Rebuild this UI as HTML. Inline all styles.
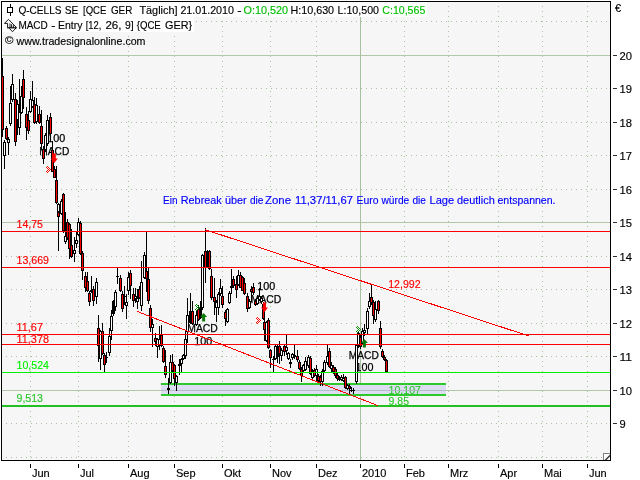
<!DOCTYPE html>
<html lang="de"><head><meta charset="utf-8"><title>Q-CELLS SE Chart</title>
<style>html,body{margin:0;padding:0;background:#fff;overflow:hidden}svg{display:block;will-change:transform}text{white-space:pre}</style>
</head><body><svg width="640" height="480" viewBox="0 0 640 480" font-family="'Liberation Sans', sans-serif" font-size="11"><rect x="0" y="0" width="640" height="480" fill="#ffffff"/>
<rect x="2" y="2" width="608" height="458" fill="#f6f6f6"/>
<g shape-rendering="crispEdges"><line x1="1" y1="457.5" x2="610" y2="457.5" stroke="#a6c29e" stroke-width="1" stroke-dasharray="1 4"/><line x1="1" y1="423.5" x2="610" y2="423.5" stroke="#a6c29e" stroke-width="1" stroke-dasharray="1 4"/><rect x="2" y="390" width="608" height="1" fill="#b0c8a8"/><line x1="1" y1="356.5" x2="610" y2="356.5" stroke="#a6c29e" stroke-width="1" stroke-dasharray="1 4"/><line x1="1" y1="323.5" x2="610" y2="323.5" stroke="#a6c29e" stroke-width="1" stroke-dasharray="1 4"/><line x1="1" y1="289.5" x2="610" y2="289.5" stroke="#a6c29e" stroke-width="1" stroke-dasharray="1 4"/><line x1="1" y1="256.5" x2="610" y2="256.5" stroke="#a6c29e" stroke-width="1" stroke-dasharray="1 4"/><rect x="2" y="222" width="608" height="1" fill="#b0c8a8"/><line x1="1" y1="189.5" x2="610" y2="189.5" stroke="#a6c29e" stroke-width="1" stroke-dasharray="1 4"/><line x1="1" y1="155.5" x2="610" y2="155.5" stroke="#a6c29e" stroke-width="1" stroke-dasharray="1 4"/><line x1="1" y1="122.5" x2="610" y2="122.5" stroke="#a6c29e" stroke-width="1" stroke-dasharray="1 4"/><line x1="1" y1="88.5" x2="610" y2="88.5" stroke="#a6c29e" stroke-width="1" stroke-dasharray="1 4"/><rect x="2" y="55" width="608" height="1" fill="#b0c8a8"/><line x1="1" y1="21.5" x2="610" y2="21.5" stroke="#a6c29e" stroke-width="1" stroke-dasharray="1 4"/><line x1="30.5" y1="1" x2="30.5" y2="460" stroke="#a6c29e" stroke-width="1" stroke-dasharray="1 4"/><line x1="78.5" y1="1" x2="78.5" y2="460" stroke="#a6c29e" stroke-width="1" stroke-dasharray="1 4"/><line x1="128.5" y1="1" x2="128.5" y2="460" stroke="#a6c29e" stroke-width="1" stroke-dasharray="1 4"/><line x1="174.5" y1="1" x2="174.5" y2="460" stroke="#a6c29e" stroke-width="1" stroke-dasharray="1 4"/><line x1="222.5" y1="1" x2="222.5" y2="460" stroke="#a6c29e" stroke-width="1" stroke-dasharray="1 4"/><line x1="270.5" y1="1" x2="270.5" y2="460" stroke="#a6c29e" stroke-width="1" stroke-dasharray="1 4"/><line x1="316.5" y1="1" x2="316.5" y2="460" stroke="#a6c29e" stroke-width="1" stroke-dasharray="1 4"/><rect x="360" y="17" width="1" height="443" fill="#a8c0a0"/><line x1="404.5" y1="1" x2="404.5" y2="460" stroke="#a6c29e" stroke-width="1" stroke-dasharray="1 4"/><line x1="448.5" y1="1" x2="448.5" y2="460" stroke="#a6c29e" stroke-width="1" stroke-dasharray="1 4"/><line x1="498.5" y1="1" x2="498.5" y2="460" stroke="#a6c29e" stroke-width="1" stroke-dasharray="1 4"/><line x1="542.5" y1="1" x2="542.5" y2="460" stroke="#a6c29e" stroke-width="1" stroke-dasharray="1 4"/><line x1="587.5" y1="1" x2="587.5" y2="460" stroke="#a6c29e" stroke-width="1" stroke-dasharray="1 4"/></g>
<g shape-rendering="crispEdges"><rect x="161" y="383" width="285" height="13" fill="#dcdcf2"/><rect x="161" y="390" width="285" height="1" fill="#b4bcc4"/><rect x="161" y="383" width="285" height="2" fill="#2cc82c"/><rect x="161" y="394" width="285" height="2" fill="#2cc82c"/></g><text x="47.3" y="141.5" fill="#000" stroke="#000" stroke-width="0.25" textLength="18" lengthAdjust="spacingAndGlyphs">100</text><text x="39.3" y="154.6" fill="#000" stroke="#000" stroke-width="0.25" textLength="30" lengthAdjust="spacingAndGlyphs">MACD</text><text x="187.3" y="332" fill="#000" stroke="#000" stroke-width="0.25" textLength="30.5" lengthAdjust="spacingAndGlyphs">MACD</text><text x="194.3" y="345" fill="#000" stroke="#000" stroke-width="0.25" textLength="18" lengthAdjust="spacingAndGlyphs">100</text><text x="257.3" y="290" fill="#000" stroke="#000" stroke-width="0.25" textLength="18" lengthAdjust="spacingAndGlyphs">100</text><text x="250.8" y="303" fill="#000" stroke="#000" stroke-width="0.25" textLength="30.5" lengthAdjust="spacingAndGlyphs">MACD</text><text x="348.8" y="358.8" fill="#000" stroke="#000" stroke-width="0.25" textLength="30" lengthAdjust="spacingAndGlyphs">MACD</text><text x="355.5" y="371" fill="#000" stroke="#000" stroke-width="0.25" textLength="18" lengthAdjust="spacingAndGlyphs">100</text>
<g shape-rendering="crispEdges"><rect x="2" y="58" width="1" height="79" fill="#000"/><rect x="1" y="76" width="3" height="54" fill="#000"/><rect x="2" y="77" width="1" height="52" fill="#ff0000"/><rect x="4" y="140" width="1" height="29" fill="#000"/><rect x="3" y="142" width="3" height="14" fill="#000"/><rect x="4" y="143" width="1" height="12" fill="#ffffff"/><rect x="6" y="126" width="1" height="14" fill="#000"/><rect x="5" y="128" width="3" height="11" fill="#000"/><rect x="6" y="129" width="1" height="9" fill="#ff0000"/><rect x="8" y="137" width="1" height="18" fill="#000"/><rect x="7" y="139" width="3" height="4" fill="#000"/><rect x="8" y="140" width="1" height="2" fill="#ffffff"/><rect x="10" y="86" width="1" height="40" fill="#000"/><rect x="9" y="103" width="3" height="21" fill="#000"/><rect x="10" y="104" width="1" height="19" fill="#ffffff"/><rect x="12" y="74" width="1" height="28" fill="#000"/><rect x="11" y="84" width="3" height="16" fill="#000"/><rect x="12" y="85" width="1" height="14" fill="#ffffff"/><rect x="15" y="93" width="1" height="53" fill="#000"/><rect x="14" y="99" width="3" height="43" fill="#000"/><rect x="15" y="100" width="1" height="41" fill="#ff0000"/><rect x="17" y="100" width="1" height="35" fill="#000"/><rect x="16" y="104" width="3" height="16" fill="#000"/><rect x="17" y="105" width="1" height="14" fill="#ffffff"/><rect x="19" y="79" width="1" height="56" fill="#000"/><rect x="18" y="112" width="3" height="16" fill="#000"/><rect x="19" y="113" width="1" height="14" fill="#ffffff"/><rect x="21" y="86" width="1" height="28" fill="#000"/><rect x="20" y="96" width="3" height="17" fill="#000"/><rect x="21" y="97" width="1" height="15" fill="#ffffff"/><rect x="23" y="70" width="1" height="39" fill="#000"/><rect x="22" y="79" width="3" height="19" fill="#000"/><rect x="23" y="80" width="1" height="17" fill="#ff0000"/><rect x="26" y="107" width="1" height="33" fill="#000"/><rect x="25" y="114" width="3" height="14" fill="#000"/><rect x="26" y="115" width="1" height="12" fill="#ff0000"/><rect x="28" y="111" width="1" height="23" fill="#000"/><rect x="27" y="120" width="3" height="11" fill="#000"/><rect x="28" y="121" width="1" height="9" fill="#ff0000"/><rect x="30" y="91" width="1" height="22" fill="#000"/><rect x="29" y="99" width="3" height="13" fill="#000"/><rect x="30" y="100" width="1" height="11" fill="#ffffff"/><rect x="32" y="81" width="1" height="27" fill="#000"/><rect x="31" y="100" width="3" height="7" fill="#000"/><rect x="32" y="101" width="1" height="5" fill="#ffffff"/><rect x="34" y="97" width="1" height="27" fill="#000"/><rect x="33" y="104" width="3" height="19" fill="#000"/><rect x="34" y="105" width="1" height="17" fill="#ff0000"/><rect x="36" y="98" width="1" height="26" fill="#000"/><rect x="35" y="105" width="3" height="17" fill="#000"/><rect x="36" y="106" width="1" height="15" fill="#ffffff"/><rect x="39" y="106" width="1" height="18" fill="#000"/><rect x="38" y="114" width="3" height="9" fill="#000"/><rect x="39" y="115" width="1" height="7" fill="#ff0000"/><rect x="41" y="110" width="1" height="40" fill="#000"/><rect x="40" y="126" width="3" height="18" fill="#000"/><rect x="41" y="127" width="1" height="16" fill="#ff0000"/><rect x="43" y="146" width="1" height="18" fill="#000"/><rect x="42" y="149" width="3" height="10" fill="#000"/><rect x="43" y="150" width="1" height="8" fill="#ff0000"/><rect x="45" y="133" width="1" height="19" fill="#000"/><rect x="44" y="135" width="3" height="15" fill="#000"/><rect x="45" y="136" width="1" height="13" fill="#ffffff"/><rect x="47" y="115" width="1" height="31" fill="#000"/><rect x="46" y="120" width="3" height="24" fill="#000"/><rect x="47" y="121" width="1" height="22" fill="#ffffff"/><rect x="50" y="113" width="1" height="28" fill="#000"/><rect x="49" y="117" width="3" height="17" fill="#000"/><rect x="50" y="118" width="1" height="15" fill="#ff0000"/><rect x="52" y="141" width="1" height="31" fill="#000"/><rect x="51" y="150" width="3" height="22" fill="#000"/><rect x="52" y="151" width="1" height="20" fill="#ff0000"/><rect x="54" y="166" width="1" height="12" fill="#000"/><rect x="53" y="169" width="3" height="9" fill="#000"/><rect x="54" y="170" width="1" height="7" fill="#ff0000"/><rect x="56" y="166" width="1" height="38" fill="#000"/><rect x="55" y="180" width="3" height="23" fill="#000"/><rect x="56" y="181" width="1" height="21" fill="#ff0000"/><rect x="58" y="203" width="1" height="10" fill="#000"/><rect x="57" y="204" width="3" height="8" fill="#000"/><rect x="58" y="205" width="1" height="6" fill="#ffffff"/><rect x="58" y="212" width="1" height="39" fill="#000"/><rect x="57" y="212" width="3" height="5" fill="#000"/><rect x="58" y="213" width="1" height="3" fill="#ff0000"/><rect x="61" y="199" width="1" height="16" fill="#000"/><rect x="60" y="201" width="3" height="13" fill="#000"/><rect x="61" y="202" width="1" height="11" fill="#ffffff"/><rect x="63" y="193" width="1" height="40" fill="#000"/><rect x="62" y="194" width="3" height="37" fill="#000"/><rect x="63" y="195" width="1" height="35" fill="#ff0000"/><rect x="65" y="212" width="1" height="32" fill="#000"/><rect x="64" y="236" width="3" height="6" fill="#000"/><rect x="65" y="237" width="1" height="4" fill="#ffffff"/><rect x="67" y="219" width="1" height="21" fill="#000"/><rect x="66" y="222" width="3" height="16" fill="#000"/><rect x="67" y="223" width="1" height="14" fill="#ff0000"/><rect x="69" y="223" width="1" height="36" fill="#000"/><rect x="68" y="224" width="3" height="25" fill="#000"/><rect x="69" y="225" width="1" height="23" fill="#ff0000"/><rect x="71" y="229" width="1" height="29" fill="#000"/><rect x="70" y="245" width="3" height="12" fill="#000"/><rect x="71" y="246" width="1" height="10" fill="#ff0000"/><rect x="74" y="237" width="1" height="25" fill="#000"/><rect x="73" y="250" width="3" height="4" fill="#000"/><rect x="74" y="251" width="1" height="2" fill="#ffffff"/><rect x="76" y="232" width="1" height="16" fill="#000"/><rect x="75" y="240" width="3" height="4" fill="#000"/><rect x="76" y="241" width="1" height="2" fill="#ffffff"/><rect x="78" y="218" width="1" height="18" fill="#000"/><rect x="77" y="222" width="3" height="13" fill="#000"/><rect x="78" y="223" width="1" height="11" fill="#ffffff"/><rect x="80" y="221" width="1" height="34" fill="#000"/><rect x="79" y="223" width="3" height="31" fill="#000"/><rect x="80" y="224" width="1" height="29" fill="#ff0000"/><rect x="82" y="251" width="1" height="29" fill="#000"/><rect x="81" y="253" width="3" height="18" fill="#000"/><rect x="82" y="254" width="1" height="16" fill="#ff0000"/><rect x="85" y="272" width="1" height="20" fill="#000"/><rect x="84" y="276" width="3" height="12" fill="#000"/><rect x="85" y="277" width="1" height="10" fill="#ff0000"/><rect x="87" y="272" width="1" height="20" fill="#000"/><rect x="86" y="281" width="3" height="10" fill="#000"/><rect x="87" y="282" width="1" height="8" fill="#ff0000"/><rect x="89" y="291" width="1" height="15" fill="#000"/><rect x="88" y="293" width="3" height="9" fill="#000"/><rect x="89" y="294" width="1" height="7" fill="#ff0000"/><rect x="91" y="276" width="1" height="17" fill="#000"/><rect x="90" y="290" width="3" height="2" fill="#000"/><rect x="93" y="286" width="1" height="20" fill="#000"/><rect x="92" y="289" width="3" height="12" fill="#000"/><rect x="93" y="290" width="1" height="10" fill="#ff0000"/><rect x="96" y="278" width="1" height="26" fill="#000"/><rect x="95" y="282" width="3" height="15" fill="#000"/><rect x="96" y="283" width="1" height="13" fill="#ffffff"/><rect x="98" y="315" width="1" height="47" fill="#000"/><rect x="97" y="328" width="3" height="18" fill="#000"/><rect x="98" y="329" width="1" height="16" fill="#ff0000"/><rect x="100" y="330" width="1" height="40" fill="#000"/><rect x="99" y="331" width="3" height="28" fill="#000"/><rect x="100" y="332" width="1" height="26" fill="#ffffff"/><rect x="102" y="323" width="1" height="32" fill="#000"/><rect x="101" y="331" width="3" height="23" fill="#000"/><rect x="102" y="332" width="1" height="21" fill="#ff0000"/><rect x="104" y="353" width="1" height="19" fill="#000"/><rect x="103" y="355" width="3" height="10" fill="#000"/><rect x="104" y="356" width="1" height="8" fill="#ff0000"/><rect x="106" y="352" width="1" height="11" fill="#000"/><rect x="105" y="357" width="3" height="1" fill="#000"/><rect x="109" y="328" width="1" height="28" fill="#000"/><rect x="108" y="336" width="3" height="17" fill="#000"/><rect x="109" y="337" width="1" height="15" fill="#ffffff"/><rect x="111" y="310" width="1" height="30" fill="#000"/><rect x="110" y="316" width="3" height="15" fill="#000"/><rect x="111" y="317" width="1" height="13" fill="#ffffff"/><rect x="113" y="300" width="1" height="16" fill="#000"/><rect x="112" y="301" width="3" height="13" fill="#000"/><rect x="113" y="302" width="1" height="11" fill="#000000"/><rect x="115" y="290" width="1" height="21" fill="#000"/><rect x="114" y="292" width="3" height="15" fill="#000"/><rect x="115" y="293" width="1" height="13" fill="#ffffff"/><rect x="117" y="268" width="1" height="16" fill="#000"/><rect x="116" y="276" width="3" height="1" fill="#000"/><rect x="120" y="275" width="1" height="17" fill="#000"/><rect x="119" y="278" width="3" height="13" fill="#000"/><rect x="120" y="279" width="1" height="11" fill="#ff0000"/><rect x="122" y="291" width="1" height="21" fill="#000"/><rect x="121" y="294" width="3" height="15" fill="#000"/><rect x="122" y="295" width="1" height="13" fill="#ff0000"/><rect x="124" y="286" width="1" height="19" fill="#000"/><rect x="123" y="296" width="3" height="1" fill="#000"/><rect x="126" y="294" width="1" height="25" fill="#000"/><rect x="125" y="302" width="3" height="4" fill="#000"/><rect x="126" y="303" width="1" height="2" fill="#ffffff"/><rect x="128" y="272" width="1" height="23" fill="#000"/><rect x="127" y="277" width="3" height="14" fill="#000"/><rect x="128" y="278" width="1" height="12" fill="#ffffff"/><rect x="130" y="270" width="1" height="29" fill="#000"/><rect x="129" y="273" width="3" height="13" fill="#000"/><rect x="130" y="274" width="1" height="11" fill="#ff0000"/><rect x="133" y="288" width="1" height="19" fill="#000"/><rect x="132" y="294" width="3" height="7" fill="#000"/><rect x="133" y="295" width="1" height="5" fill="#ff0000"/><rect x="135" y="288" width="1" height="15" fill="#000"/><rect x="134" y="296" width="3" height="3" fill="#000"/><rect x="135" y="297" width="1" height="1" fill="#ffffff"/><rect x="137" y="289" width="1" height="20" fill="#000"/><rect x="136" y="298" width="3" height="4" fill="#000"/><rect x="137" y="299" width="1" height="2" fill="#ffffff"/><rect x="139" y="286" width="1" height="13" fill="#000"/><rect x="138" y="289" width="3" height="9" fill="#000"/><rect x="139" y="290" width="1" height="7" fill="#ff0000"/><rect x="141" y="261" width="1" height="50" fill="#000"/><rect x="140" y="282" width="3" height="24" fill="#000"/><rect x="141" y="283" width="1" height="22" fill="#ffffff"/><rect x="144" y="252" width="1" height="27" fill="#000"/><rect x="143" y="255" width="3" height="23" fill="#000"/><rect x="144" y="256" width="1" height="21" fill="#ffffff"/><rect x="146" y="232" width="1" height="60" fill="#000"/><rect x="145" y="271" width="3" height="8" fill="#000"/><rect x="146" y="272" width="1" height="6" fill="#ff0000"/><rect x="148" y="268" width="1" height="36" fill="#000"/><rect x="147" y="279" width="3" height="22" fill="#000"/><rect x="148" y="280" width="1" height="20" fill="#ff0000"/><rect x="150" y="305" width="1" height="27" fill="#000"/><rect x="149" y="308" width="3" height="20" fill="#000"/><rect x="150" y="309" width="1" height="18" fill="#ff0000"/><rect x="152" y="319" width="1" height="28" fill="#000"/><rect x="151" y="324" width="3" height="4" fill="#000"/><rect x="152" y="325" width="1" height="2" fill="#ffffff"/><rect x="155" y="333" width="1" height="13" fill="#000"/><rect x="154" y="338" width="3" height="4" fill="#000"/><rect x="155" y="339" width="1" height="2" fill="#ff0000"/><rect x="157" y="338" width="1" height="20" fill="#000"/><rect x="156" y="339" width="3" height="8" fill="#000"/><rect x="157" y="340" width="1" height="6" fill="#ffffff"/><rect x="159" y="326" width="1" height="24" fill="#000"/><rect x="158" y="339" width="3" height="7" fill="#000"/><rect x="159" y="340" width="1" height="5" fill="#ffffff"/><rect x="161" y="325" width="1" height="22" fill="#000"/><rect x="160" y="335" width="3" height="11" fill="#000"/><rect x="161" y="336" width="1" height="9" fill="#ff0000"/><rect x="163" y="346" width="1" height="17" fill="#000"/><rect x="162" y="348" width="3" height="14" fill="#000"/><rect x="163" y="349" width="1" height="12" fill="#ff0000"/><rect x="165" y="350" width="1" height="28" fill="#000"/><rect x="164" y="366" width="3" height="9" fill="#000"/><rect x="165" y="367" width="1" height="7" fill="#ff0000"/><rect x="168" y="378" width="1" height="16" fill="#000"/><rect x="167" y="388" width="3" height="2" fill="#000"/><rect x="170" y="355" width="1" height="29" fill="#000"/><rect x="169" y="362" width="3" height="21" fill="#000"/><rect x="170" y="363" width="1" height="19" fill="#ffffff"/><rect x="172" y="354" width="1" height="18" fill="#000"/><rect x="171" y="362" width="3" height="9" fill="#000"/><rect x="172" y="363" width="1" height="7" fill="#ff0000"/><rect x="174" y="364" width="1" height="22" fill="#000"/><rect x="173" y="365" width="3" height="14" fill="#000"/><rect x="174" y="366" width="1" height="12" fill="#ff0000"/><rect x="176" y="375" width="1" height="16" fill="#000"/><rect x="175" y="376" width="3" height="7" fill="#000"/><rect x="176" y="377" width="1" height="5" fill="#ffffff"/><rect x="179" y="359" width="1" height="16" fill="#000"/><rect x="178" y="364" width="3" height="2" fill="#000"/><rect x="181" y="358" width="1" height="14" fill="#000"/><rect x="180" y="359" width="3" height="5" fill="#000"/><rect x="181" y="360" width="1" height="3" fill="#ffffff"/><rect x="183" y="354" width="1" height="6" fill="#000"/><rect x="182" y="355" width="3" height="4" fill="#000"/><rect x="183" y="356" width="1" height="2" fill="#ffffff"/><rect x="185" y="331" width="1" height="28" fill="#000"/><rect x="184" y="339" width="3" height="17" fill="#000"/><rect x="185" y="340" width="1" height="15" fill="#ffffff"/><rect x="187" y="298" width="1" height="45" fill="#000"/><rect x="186" y="315" width="3" height="17" fill="#000"/><rect x="187" y="316" width="1" height="15" fill="#ffffff"/><rect x="190" y="293" width="1" height="31" fill="#000"/><rect x="189" y="311" width="3" height="12" fill="#000"/><rect x="190" y="312" width="1" height="10" fill="#000000"/><rect x="192" y="301" width="1" height="24" fill="#000"/><rect x="191" y="311" width="3" height="13" fill="#000"/><rect x="192" y="312" width="1" height="11" fill="#ff0000"/><rect x="196" y="311" width="1" height="15" fill="#000"/><rect x="195" y="315" width="3" height="10" fill="#000"/><rect x="196" y="316" width="1" height="8" fill="#ffffff"/><rect x="198" y="305" width="1" height="16" fill="#000"/><rect x="197" y="309" width="3" height="11" fill="#000"/><rect x="198" y="310" width="1" height="9" fill="#ff0000"/><rect x="200" y="301" width="1" height="18" fill="#000"/><rect x="199" y="307" width="3" height="11" fill="#000"/><rect x="200" y="308" width="1" height="9" fill="#000000"/><rect x="202" y="254" width="1" height="56" fill="#000"/><rect x="201" y="255" width="3" height="53" fill="#000"/><rect x="202" y="256" width="1" height="51" fill="#ffffff"/><rect x="205" y="228" width="1" height="55" fill="#000"/><rect x="204" y="251" width="3" height="17" fill="#000"/><rect x="205" y="252" width="1" height="15" fill="#ff0000"/><rect x="207" y="250" width="1" height="18" fill="#000"/><rect x="206" y="251" width="3" height="15" fill="#000"/><rect x="207" y="252" width="1" height="13" fill="#000000"/><rect x="209" y="250" width="1" height="20" fill="#000"/><rect x="208" y="251" width="3" height="18" fill="#000"/><rect x="209" y="252" width="1" height="16" fill="#ff0000"/><rect x="211" y="269" width="1" height="31" fill="#000"/><rect x="210" y="276" width="3" height="22" fill="#000"/><rect x="211" y="277" width="1" height="20" fill="#ff0000"/><rect x="214" y="278" width="1" height="37" fill="#000"/><rect x="213" y="297" width="3" height="5" fill="#000"/><rect x="214" y="298" width="1" height="3" fill="#ff0000"/><rect x="216" y="300" width="1" height="22" fill="#000"/><rect x="215" y="302" width="3" height="6" fill="#000"/><rect x="216" y="303" width="1" height="4" fill="#ffffff"/><rect x="218" y="292" width="1" height="23" fill="#000"/><rect x="217" y="294" width="3" height="14" fill="#000"/><rect x="218" y="295" width="1" height="12" fill="#ffffff"/><rect x="220" y="279" width="1" height="17" fill="#000"/><rect x="219" y="288" width="3" height="6" fill="#000"/><rect x="220" y="289" width="1" height="4" fill="#ffffff"/><rect x="222" y="286" width="1" height="22" fill="#000"/><rect x="221" y="296" width="3" height="9" fill="#000"/><rect x="222" y="297" width="1" height="7" fill="#ff0000"/><rect x="225" y="310" width="1" height="16" fill="#000"/><rect x="224" y="312" width="3" height="7" fill="#000"/><rect x="225" y="313" width="1" height="5" fill="#ff0000"/><rect x="227" y="308" width="1" height="15" fill="#000"/><rect x="226" y="309" width="3" height="13" fill="#000"/><rect x="227" y="310" width="1" height="11" fill="#ffffff"/><rect x="229" y="291" width="1" height="13" fill="#000"/><rect x="228" y="293" width="3" height="10" fill="#000"/><rect x="229" y="294" width="1" height="8" fill="#ffffff"/><rect x="231" y="269" width="1" height="25" fill="#000"/><rect x="230" y="286" width="3" height="2" fill="#000"/><rect x="233" y="276" width="1" height="12" fill="#000"/><rect x="232" y="279" width="3" height="7" fill="#000"/><rect x="233" y="280" width="1" height="5" fill="#ff0000"/><rect x="236" y="276" width="1" height="22" fill="#000"/><rect x="235" y="284" width="3" height="6" fill="#000"/><rect x="236" y="285" width="1" height="4" fill="#ff0000"/><rect x="238" y="270" width="1" height="16" fill="#000"/><rect x="237" y="275" width="3" height="10" fill="#000"/><rect x="238" y="276" width="1" height="8" fill="#ffffff"/><rect x="240" y="272" width="1" height="16" fill="#000"/><rect x="239" y="275" width="3" height="13" fill="#000"/><rect x="240" y="276" width="1" height="11" fill="#ff0000"/><rect x="242" y="276" width="1" height="15" fill="#000"/><rect x="241" y="277" width="3" height="14" fill="#000"/><rect x="242" y="278" width="1" height="12" fill="#ff0000"/><rect x="244" y="278" width="1" height="17" fill="#000"/><rect x="243" y="283" width="3" height="11" fill="#000"/><rect x="244" y="284" width="1" height="9" fill="#ff0000"/><rect x="247" y="293" width="1" height="19" fill="#000"/><rect x="246" y="296" width="3" height="13" fill="#000"/><rect x="247" y="297" width="1" height="11" fill="#ff0000"/><rect x="249" y="299" width="1" height="10" fill="#000"/><rect x="248" y="301" width="3" height="7" fill="#000"/><rect x="249" y="302" width="1" height="5" fill="#ffffff"/><rect x="251" y="286" width="1" height="16" fill="#000"/><rect x="250" y="289" width="3" height="3" fill="#000"/><rect x="251" y="290" width="1" height="1" fill="#ff0000"/><rect x="253" y="283" width="1" height="12" fill="#000"/><rect x="252" y="287" width="3" height="6" fill="#000"/><rect x="253" y="288" width="1" height="4" fill="#ff0000"/><rect x="255" y="299" width="1" height="7" fill="#000"/><rect x="254" y="301" width="3" height="4" fill="#000"/><rect x="255" y="302" width="1" height="2" fill="#ff0000"/><rect x="257" y="296" width="1" height="9" fill="#000"/><rect x="256" y="298" width="3" height="6" fill="#000"/><rect x="257" y="299" width="1" height="4" fill="#ffffff"/><rect x="259" y="288" width="1" height="13" fill="#000"/><rect x="258" y="296" width="3" height="4" fill="#000"/><rect x="259" y="297" width="1" height="2" fill="#ffffff"/><rect x="261" y="296" width="1" height="8" fill="#000"/><rect x="260" y="298" width="3" height="4" fill="#000"/><rect x="261" y="299" width="1" height="2" fill="#ffffff"/><rect x="263" y="302" width="1" height="18" fill="#000"/><rect x="262" y="304" width="3" height="15" fill="#000"/><rect x="263" y="305" width="1" height="13" fill="#ff0000"/><rect x="264" y="319" width="1" height="22" fill="#000"/><rect x="263" y="322" width="3" height="8" fill="#000"/><rect x="264" y="323" width="1" height="6" fill="#ff0000"/><rect x="266" y="321" width="1" height="21" fill="#000"/><rect x="265" y="322" width="3" height="19" fill="#000"/><rect x="266" y="323" width="1" height="17" fill="#ffffff"/><rect x="268" y="318" width="1" height="31" fill="#000"/><rect x="267" y="320" width="3" height="28" fill="#000"/><rect x="268" y="321" width="1" height="26" fill="#ff0000"/><rect x="270" y="349" width="1" height="19" fill="#000"/><rect x="269" y="350" width="3" height="8" fill="#000"/><rect x="270" y="351" width="1" height="6" fill="#ff0000"/><rect x="273" y="356" width="1" height="16" fill="#000"/><rect x="272" y="359" width="3" height="1" fill="#000"/><rect x="275" y="344" width="1" height="16" fill="#000"/><rect x="274" y="346" width="3" height="13" fill="#000"/><rect x="275" y="347" width="1" height="11" fill="#ffffff"/><rect x="277" y="344" width="1" height="19" fill="#000"/><rect x="276" y="346" width="3" height="11" fill="#000"/><rect x="277" y="347" width="1" height="9" fill="#000000"/><rect x="279" y="341" width="1" height="23" fill="#000"/><rect x="278" y="346" width="3" height="8" fill="#000"/><rect x="279" y="347" width="1" height="6" fill="#ff0000"/><rect x="281" y="348" width="1" height="13" fill="#000"/><rect x="280" y="350" width="3" height="6" fill="#000"/><rect x="281" y="351" width="1" height="4" fill="#ffffff"/><rect x="284" y="345" width="1" height="11" fill="#000"/><rect x="283" y="346" width="3" height="6" fill="#000"/><rect x="284" y="347" width="1" height="4" fill="#ff0000"/><rect x="286" y="335" width="1" height="20" fill="#000"/><rect x="285" y="347" width="3" height="4" fill="#000"/><rect x="286" y="348" width="1" height="2" fill="#ffffff"/><rect x="288" y="352" width="1" height="8" fill="#000"/><rect x="287" y="353" width="3" height="6" fill="#000"/><rect x="288" y="354" width="1" height="4" fill="#ffffff"/><rect x="290" y="359" width="1" height="9" fill="#000"/><rect x="289" y="362" width="3" height="2" fill="#000"/><rect x="292" y="353" width="1" height="7" fill="#000"/><rect x="291" y="354" width="3" height="4" fill="#000"/><rect x="292" y="355" width="1" height="2" fill="#ffffff"/><rect x="294" y="345" width="1" height="14" fill="#000"/><rect x="293" y="355" width="3" height="2" fill="#000"/><rect x="297" y="350" width="1" height="12" fill="#000"/><rect x="296" y="356" width="3" height="4" fill="#000"/><rect x="297" y="357" width="1" height="2" fill="#ff0000"/><rect x="299" y="360" width="1" height="10" fill="#000"/><rect x="298" y="362" width="3" height="7" fill="#000"/><rect x="299" y="363" width="1" height="5" fill="#ff0000"/><rect x="301" y="367" width="1" height="15" fill="#000"/><rect x="300" y="369" width="3" height="7" fill="#000"/><rect x="301" y="370" width="1" height="5" fill="#ff0000"/><rect x="303" y="364" width="1" height="9" fill="#000"/><rect x="302" y="365" width="3" height="6" fill="#000"/><rect x="303" y="366" width="1" height="4" fill="#ffffff"/><rect x="305" y="357" width="1" height="14" fill="#000"/><rect x="304" y="361" width="3" height="9" fill="#000"/><rect x="305" y="362" width="1" height="7" fill="#ffffff"/><rect x="308" y="355" width="1" height="13" fill="#000"/><rect x="307" y="357" width="3" height="9" fill="#000"/><rect x="308" y="358" width="1" height="7" fill="#ffffff"/><rect x="310" y="356" width="1" height="19" fill="#000"/><rect x="309" y="358" width="3" height="16" fill="#000"/><rect x="310" y="359" width="1" height="14" fill="#ff0000"/><rect x="312" y="369" width="1" height="12" fill="#000"/><rect x="311" y="371" width="3" height="7" fill="#000"/><rect x="312" y="372" width="1" height="5" fill="#ffffff"/><rect x="314" y="368" width="1" height="9" fill="#000"/><rect x="313" y="370" width="3" height="6" fill="#000"/><rect x="314" y="371" width="1" height="4" fill="#ff0000"/><rect x="316" y="365" width="1" height="16" fill="#000"/><rect x="315" y="369" width="3" height="7" fill="#000"/><rect x="316" y="370" width="1" height="5" fill="#ffffff"/><rect x="318" y="374" width="1" height="9" fill="#000"/><rect x="317" y="376" width="3" height="5" fill="#000"/><rect x="318" y="377" width="1" height="3" fill="#ff0000"/><rect x="320" y="375" width="1" height="11" fill="#000"/><rect x="319" y="377" width="3" height="5" fill="#000"/><rect x="320" y="378" width="1" height="3" fill="#ff0000"/><rect x="322" y="369" width="1" height="17" fill="#000"/><rect x="321" y="371" width="3" height="11" fill="#000"/><rect x="322" y="372" width="1" height="9" fill="#ffffff"/><rect x="324" y="360" width="1" height="12" fill="#000"/><rect x="323" y="362" width="3" height="9" fill="#000"/><rect x="324" y="363" width="1" height="7" fill="#ffffff"/><rect x="327" y="345" width="1" height="20" fill="#000"/><rect x="326" y="356" width="3" height="7" fill="#000"/><rect x="327" y="357" width="1" height="5" fill="#ffffff"/><rect x="329" y="348" width="1" height="20" fill="#000"/><rect x="328" y="351" width="3" height="16" fill="#000"/><rect x="329" y="352" width="1" height="14" fill="#ff0000"/><rect x="331" y="362" width="1" height="10" fill="#000"/><rect x="330" y="365" width="3" height="4" fill="#000"/><rect x="331" y="366" width="1" height="2" fill="#ffffff"/><rect x="333" y="365" width="1" height="9" fill="#000"/><rect x="332" y="367" width="3" height="5" fill="#000"/><rect x="333" y="368" width="1" height="3" fill="#ff0000"/><rect x="335" y="367" width="1" height="11" fill="#000"/><rect x="334" y="369" width="3" height="7" fill="#000"/><rect x="335" y="370" width="1" height="5" fill="#ff0000"/><rect x="337" y="373" width="1" height="8" fill="#000"/><rect x="336" y="375" width="3" height="4" fill="#000"/><rect x="337" y="376" width="1" height="2" fill="#ff0000"/><rect x="339" y="376" width="1" height="5" fill="#000"/><rect x="338" y="378" width="3" height="2" fill="#000"/><rect x="341" y="375" width="1" height="6" fill="#000"/><rect x="340" y="377" width="3" height="3" fill="#000"/><rect x="341" y="378" width="1" height="1" fill="#ffffff"/><rect x="343" y="374" width="1" height="8" fill="#000"/><rect x="342" y="378" width="3" height="3" fill="#000"/><rect x="343" y="379" width="1" height="1" fill="#ffffff"/><rect x="345" y="376" width="1" height="13" fill="#000"/><rect x="344" y="377" width="3" height="11" fill="#000"/><rect x="345" y="378" width="1" height="9" fill="#ff0000"/><rect x="347" y="384" width="1" height="6" fill="#000"/><rect x="346" y="385" width="3" height="4" fill="#000"/><rect x="347" y="386" width="1" height="2" fill="#ffffff"/><rect x="349" y="384" width="1" height="10" fill="#000"/><rect x="348" y="386" width="3" height="3" fill="#000"/><rect x="349" y="387" width="1" height="1" fill="#ff0000"/><rect x="351" y="387" width="1" height="5" fill="#000"/><rect x="350" y="390" width="3" height="1" fill="#000"/><rect x="353" y="388" width="1" height="6" fill="#000"/><rect x="352" y="390" width="3" height="1" fill="#000"/><rect x="356" y="344" width="1" height="40" fill="#000"/><rect x="355" y="345" width="3" height="37" fill="#000"/><rect x="356" y="346" width="1" height="35" fill="#ffffff"/><rect x="358" y="331" width="1" height="17" fill="#000"/><rect x="357" y="333" width="3" height="13" fill="#000"/><rect x="358" y="334" width="1" height="11" fill="#ffffff"/><rect x="360" y="334" width="1" height="15" fill="#000"/><rect x="359" y="337" width="3" height="10" fill="#000"/><rect x="360" y="338" width="1" height="8" fill="#ff0000"/><rect x="362" y="328" width="1" height="17" fill="#000"/><rect x="361" y="331" width="3" height="12" fill="#000"/><rect x="362" y="332" width="1" height="10" fill="#ffffff"/><rect x="364" y="324" width="1" height="12" fill="#000"/><rect x="363" y="330" width="3" height="3" fill="#000"/><rect x="364" y="331" width="1" height="1" fill="#ffffff"/><rect x="367" y="308" width="1" height="26" fill="#000"/><rect x="366" y="311" width="3" height="18" fill="#000"/><rect x="367" y="312" width="1" height="16" fill="#ffffff"/><rect x="369" y="293" width="1" height="16" fill="#000"/><rect x="368" y="301" width="3" height="6" fill="#000"/><rect x="369" y="302" width="1" height="4" fill="#ffffff"/><rect x="371" y="285" width="1" height="20" fill="#000"/><rect x="370" y="297" width="3" height="6" fill="#000"/><rect x="371" y="298" width="1" height="4" fill="#ff0000"/><rect x="373" y="300" width="1" height="24" fill="#000"/><rect x="372" y="302" width="3" height="14" fill="#000"/><rect x="373" y="303" width="1" height="12" fill="#ff0000"/><rect x="375" y="301" width="1" height="21" fill="#000"/><rect x="374" y="309" width="3" height="11" fill="#000"/><rect x="375" y="310" width="1" height="9" fill="#ffffff"/><rect x="378" y="300" width="1" height="14" fill="#000"/><rect x="377" y="301" width="3" height="10" fill="#000"/><rect x="378" y="302" width="1" height="8" fill="#ff0000"/><rect x="380" y="321" width="1" height="28" fill="#000"/><rect x="379" y="328" width="3" height="19" fill="#000"/><rect x="380" y="329" width="1" height="17" fill="#ff0000"/><rect x="382" y="349" width="1" height="9" fill="#000"/><rect x="381" y="351" width="3" height="6" fill="#000"/><rect x="382" y="352" width="1" height="4" fill="#ff0000"/><rect x="384" y="355" width="1" height="6" fill="#000"/><rect x="383" y="357" width="3" height="3" fill="#000"/><rect x="384" y="358" width="1" height="1" fill="#ff0000"/><rect x="386" y="359" width="1" height="14" fill="#000"/><rect x="385" y="360" width="3" height="12" fill="#000"/><rect x="386" y="361" width="1" height="10" fill="#ff0000"/></g>
<g shape-rendering="crispEdges"><rect x="2" y="231" width="608" height="1" fill="#ff0000"/><rect x="2" y="267" width="608" height="1" fill="#ff0000"/><rect x="2" y="334" width="608" height="1" fill="#ff0000"/><rect x="2" y="344" width="608" height="1" fill="#ff0000"/><rect x="2" y="372" width="608" height="1" fill="#00f000"/><rect x="2" y="405" width="608" height="2" fill="#22c022"/></g><line x1="205.3" y1="229.7" x2="528.8" y2="336" stroke="#ff0000" stroke-width="1" shape-rendering="crispEdges"/><line x1="136.9" y1="311.3" x2="377.8" y2="405.6" stroke="#ff0000" stroke-width="1" shape-rendering="crispEdges"/><path d="M52.8 153.5 h3 v5 h2 l-3.5 4.5 l-3.5 -4.5 h2 z" fill="#ff0000"/><g fill="#ff0000" shape-rendering="crispEdges"><rect x="47" y="166" width="1" height="1"/><rect x="46" y="167" width="1" height="1"/><rect x="48" y="167" width="1" height="1"/><rect x="47" y="168" width="1" height="1"/><rect x="49" y="168" width="1" height="1"/><rect x="48" y="169" width="1" height="1"/><rect x="50" y="169" width="1" height="1"/><rect x="47" y="170" width="1" height="1"/><rect x="49" y="170" width="1" height="1"/><rect x="46" y="171" width="1" height="1"/><rect x="48" y="171" width="1" height="1"/><rect x="47" y="172" width="1" height="1"/></g><path d="M203.6 313 l3.5 4 h-2 v4.5 h-3 v-4.5 h-2 z" fill="#0a7a0a"/><g fill="#109010" shape-rendering="crispEdges"><rect x="196" y="304" width="1" height="1"/><rect x="195" y="305" width="1" height="1"/><rect x="197" y="305" width="1" height="1"/><rect x="196" y="306" width="1" height="1"/><rect x="198" y="306" width="1" height="1"/><rect x="197" y="307" width="1" height="1"/><rect x="199" y="307" width="1" height="1"/><rect x="196" y="308" width="1" height="1"/><rect x="198" y="308" width="1" height="1"/><rect x="195" y="309" width="1" height="1"/><rect x="197" y="309" width="1" height="1"/><rect x="196" y="310" width="1" height="1"/></g><path d="M263.0 302.5 h3 v5 h2 l-3.5 4.5 l-3.5 -4.5 h2 z" fill="#ff0000"/><g fill="#ff0000" shape-rendering="crispEdges"><rect x="257" y="317" width="1" height="1"/><rect x="256" y="318" width="1" height="1"/><rect x="258" y="318" width="1" height="1"/><rect x="257" y="319" width="1" height="1"/><rect x="259" y="319" width="1" height="1"/><rect x="258" y="320" width="1" height="1"/><rect x="260" y="320" width="1" height="1"/><rect x="257" y="321" width="1" height="1"/><rect x="259" y="321" width="1" height="1"/><rect x="256" y="322" width="1" height="1"/><rect x="258" y="322" width="1" height="1"/><rect x="257" y="323" width="1" height="1"/></g><path d="M364.4 339 l3.5 4 h-2 v4.5 h-3 v-4.5 h-2 z" fill="#0a7a0a"/><g fill="#109010" shape-rendering="crispEdges"><rect x="357" y="326" width="1" height="1"/><rect x="356" y="327" width="1" height="1"/><rect x="358" y="327" width="1" height="1"/><rect x="357" y="328" width="1" height="1"/><rect x="359" y="328" width="1" height="1"/><rect x="358" y="329" width="1" height="1"/><rect x="360" y="329" width="1" height="1"/><rect x="357" y="330" width="1" height="1"/><rect x="359" y="330" width="1" height="1"/><rect x="356" y="331" width="1" height="1"/><rect x="358" y="331" width="1" height="1"/><rect x="357" y="332" width="1" height="1"/></g>
<g shape-rendering="crispEdges"><rect x="2" y="2" width="425" height="15" fill="#fff"/><rect x="2" y="17" width="192" height="15" fill="#fff"/></g><text x="18.4" y="13.5" fill="#000" stroke="#000" stroke-width="0.15" textLength="43.1" lengthAdjust="spacingAndGlyphs">Q-CELLS</text><text x="64.7" y="13.5" fill="#000" stroke="#000" stroke-width="0.15" textLength="13.6" lengthAdjust="spacingAndGlyphs">SE</text><text x="83.0" y="13.5" fill="#000" stroke="#000" stroke-width="0.15" textLength="23.4" lengthAdjust="spacingAndGlyphs">[QCE</text><text x="110.9" y="13.5" fill="#000" stroke="#000" stroke-width="0.15" textLength="21.4" lengthAdjust="spacingAndGlyphs">GER</text><text x="139.4" y="13.5" fill="#000" stroke="#000" stroke-width="0.15" textLength="38.1" lengthAdjust="spacingAndGlyphs">Täglich]</text><text x="180.4" y="13.5" fill="#000" stroke="#000" stroke-width="0.15" textLength="53.6" lengthAdjust="spacingAndGlyphs">21.01.2010</text><text x="237.2" y="13.5" fill="#000" stroke="#000" stroke-width="0.15" textLength="4.3" lengthAdjust="spacingAndGlyphs">-</text><text x="243.5" y="13.5" fill="#00c000" stroke="#00c000" stroke-width="0.15" textLength="44.5" lengthAdjust="spacingAndGlyphs">O:10,520</text><text x="290.5" y="13.5" fill="#000" stroke="#000" stroke-width="0.15" textLength="43.6" lengthAdjust="spacingAndGlyphs">H:10,630</text><text x="337.5" y="13.5" fill="#000" stroke="#000" stroke-width="0.15" textLength="41.5" lengthAdjust="spacingAndGlyphs">L:10,500</text><text x="382.3" y="13.5" fill="#00c000" stroke="#00c000" stroke-width="0.15" textLength="43.0" lengthAdjust="spacingAndGlyphs">C:10,565</text><text x="18.4" y="28.5" fill="#000" stroke="#000" stroke-width="0.15" textLength="29.4" lengthAdjust="spacingAndGlyphs">MACD</text><text x="51.3" y="28.5" fill="#000" stroke="#000" stroke-width="0.15" textLength="4.2" lengthAdjust="spacingAndGlyphs">-</text><text x="58.0" y="28.5" fill="#000" stroke="#000" stroke-width="0.15" textLength="24.5" lengthAdjust="spacingAndGlyphs">Entry</text><text x="85.7" y="28.5" fill="#000" stroke="#000" stroke-width="0.15" textLength="15.6" lengthAdjust="spacingAndGlyphs">[12,</text><text x="105.4" y="28.5" fill="#000" stroke="#000" stroke-width="0.15" textLength="16.1" lengthAdjust="spacingAndGlyphs">26,</text><text x="125.0" y="28.5" fill="#000" stroke="#000" stroke-width="0.15" textLength="8.7" lengthAdjust="spacingAndGlyphs">9]</text><text x="136.7" y="28.5" fill="#000" stroke="#000" stroke-width="0.15" textLength="24.1" lengthAdjust="spacingAndGlyphs">{QCE</text><text x="165.1" y="28.5" fill="#000" stroke="#000" stroke-width="0.15" textLength="27.1" lengthAdjust="spacingAndGlyphs">GER}</text><text x="4.9" y="43.9" fill="#000" stroke="#000" stroke-width="0.15" font-size="11.5">©</text><text x="16.5" y="45.3" fill="#000" stroke="#000" stroke-width="0.15" textLength="129" lengthAdjust="spacingAndGlyphs">www.tradesignalonline.com</text><g shape-rendering="crispEdges" fill="#000"><rect x="10" y="4" width="1" height="12"/><rect x="7" y="7" width="6" height="6"/><rect x="8" y="8" width="4" height="4" fill="#fff"/></g><g fill="none" stroke="#000" stroke-width="0.9"><path d="M4.4 23.4 L8.5 19.4 L16.4 27.4 M4.4 23.4 H7.6 V27.6 M10 23.5 V27.5 M11.6 24.2 V27.5 M13.4 25.2 V27.5 M9.3 28.2 L12.5 31.8 L16.4 27.5"/><path d="M7.2 27.8 H16.6" stroke-width="1.2"/></g><rect x="613" y="423" width="4" height="1" fill="#303030" shape-rendering="crispEdges"/><text x="619.5" y="427.8" fill="#000" stroke="#000" stroke-width="0.15" textLength="6.2" lengthAdjust="spacingAndGlyphs">9</text><rect x="613" y="390" width="4" height="1" fill="#303030" shape-rendering="crispEdges"/><text x="619.5" y="394.8" fill="#000" stroke="#000" stroke-width="0.15" textLength="12.5" lengthAdjust="spacingAndGlyphs">10</text><rect x="613" y="356" width="4" height="1" fill="#303030" shape-rendering="crispEdges"/><text x="619.5" y="360.8" fill="#000" stroke="#000" stroke-width="0.15" textLength="12.5" lengthAdjust="spacingAndGlyphs">11</text><rect x="613" y="323" width="4" height="1" fill="#303030" shape-rendering="crispEdges"/><text x="619.5" y="327.8" fill="#000" stroke="#000" stroke-width="0.15" textLength="12.5" lengthAdjust="spacingAndGlyphs">12</text><rect x="613" y="289" width="4" height="1" fill="#303030" shape-rendering="crispEdges"/><text x="619.5" y="293.8" fill="#000" stroke="#000" stroke-width="0.15" textLength="12.5" lengthAdjust="spacingAndGlyphs">13</text><rect x="613" y="256" width="4" height="1" fill="#303030" shape-rendering="crispEdges"/><text x="619.5" y="260.8" fill="#000" stroke="#000" stroke-width="0.15" textLength="12.5" lengthAdjust="spacingAndGlyphs">14</text><rect x="613" y="222" width="4" height="1" fill="#303030" shape-rendering="crispEdges"/><text x="619.5" y="226.8" fill="#000" stroke="#000" stroke-width="0.15" textLength="12.5" lengthAdjust="spacingAndGlyphs">15</text><rect x="613" y="189" width="4" height="1" fill="#303030" shape-rendering="crispEdges"/><text x="619.5" y="193.8" fill="#000" stroke="#000" stroke-width="0.15" textLength="12.5" lengthAdjust="spacingAndGlyphs">16</text><rect x="613" y="155" width="4" height="1" fill="#303030" shape-rendering="crispEdges"/><text x="619.5" y="159.8" fill="#000" stroke="#000" stroke-width="0.15" textLength="12.5" lengthAdjust="spacingAndGlyphs">17</text><rect x="613" y="122" width="4" height="1" fill="#303030" shape-rendering="crispEdges"/><text x="619.5" y="126.8" fill="#000" stroke="#000" stroke-width="0.15" textLength="12.5" lengthAdjust="spacingAndGlyphs">18</text><rect x="613" y="88" width="4" height="1" fill="#303030" shape-rendering="crispEdges"/><text x="619.5" y="92.8" fill="#000" stroke="#000" stroke-width="0.15" textLength="12.5" lengthAdjust="spacingAndGlyphs">19</text><rect x="613" y="55" width="4" height="1" fill="#303030" shape-rendering="crispEdges"/><text x="619.5" y="59.8" fill="#000" stroke="#000" stroke-width="0.15" textLength="12.5" lengthAdjust="spacingAndGlyphs">20</text><text x="615" y="12.3" fill="#000" stroke="#000" stroke-width="0.15">€</text><rect x="30" y="464" width="1" height="4" fill="#000" shape-rendering="crispEdges"/><text x="32" y="476.5" fill="#000" stroke="#000" stroke-width="0.15">Jun</text><rect x="78" y="464" width="1" height="4" fill="#000" shape-rendering="crispEdges"/><text x="80" y="476.5" fill="#000" stroke="#000" stroke-width="0.15">Jul</text><rect x="128" y="464" width="1" height="4" fill="#000" shape-rendering="crispEdges"/><text x="130" y="476.5" fill="#000" stroke="#000" stroke-width="0.15">Aug</text><rect x="174" y="464" width="1" height="4" fill="#000" shape-rendering="crispEdges"/><text x="176" y="476.5" fill="#000" stroke="#000" stroke-width="0.15">Sep</text><rect x="222" y="464" width="1" height="4" fill="#000" shape-rendering="crispEdges"/><text x="224" y="476.5" fill="#000" stroke="#000" stroke-width="0.15">Okt</text><rect x="270" y="464" width="1" height="4" fill="#000" shape-rendering="crispEdges"/><text x="272" y="476.5" fill="#000" stroke="#000" stroke-width="0.15">Nov</text><rect x="316" y="464" width="1" height="4" fill="#000" shape-rendering="crispEdges"/><text x="318" y="476.5" fill="#000" stroke="#000" stroke-width="0.15">Dez</text><rect x="360" y="464" width="1" height="4" fill="#000" shape-rendering="crispEdges"/><text x="362" y="476.5" fill="#000" stroke="#000" stroke-width="0.15">2010</text><rect x="404" y="464" width="1" height="4" fill="#000" shape-rendering="crispEdges"/><text x="406" y="476.5" fill="#000" stroke="#000" stroke-width="0.15">Feb</text><rect x="448" y="464" width="1" height="4" fill="#000" shape-rendering="crispEdges"/><text x="450" y="476.5" fill="#000" stroke="#000" stroke-width="0.15">Mrz</text><rect x="498" y="464" width="1" height="4" fill="#000" shape-rendering="crispEdges"/><text x="500" y="476.5" fill="#000" stroke="#000" stroke-width="0.15">Apr</text><rect x="542" y="464" width="1" height="4" fill="#000" shape-rendering="crispEdges"/><text x="544" y="476.5" fill="#000" stroke="#000" stroke-width="0.15">Mai</text><rect x="587" y="464" width="1" height="4" fill="#000" shape-rendering="crispEdges"/><text x="589" y="476.5" fill="#000" stroke="#000" stroke-width="0.15">Jun</text><text x="16.5" y="228.3" fill="#ff0000" stroke="#ff0000" stroke-width="0.15" textLength="26.5" lengthAdjust="spacingAndGlyphs">14,75</text><text x="16.5" y="264.4" fill="#ff0000" stroke="#ff0000" stroke-width="0.15" textLength="32.5" lengthAdjust="spacingAndGlyphs">13,669</text><text x="16.5" y="330.8" fill="#ff0000" stroke="#ff0000" stroke-width="0.15" textLength="26.5" lengthAdjust="spacingAndGlyphs">11,67</text><text x="16.5" y="342.8" fill="#ff0000" stroke="#ff0000" stroke-width="0.15" textLength="32.5" lengthAdjust="spacingAndGlyphs">11,378</text><text x="16.5" y="368.8" fill="#00f000" stroke="#00f000" stroke-width="0.15" textLength="32.5" lengthAdjust="spacingAndGlyphs">10,524</text><text x="16.5" y="401.9" fill="#2cc82c" stroke="#2cc82c" stroke-width="0.15" textLength="26.5" lengthAdjust="spacingAndGlyphs">9,513</text><text x="388.2" y="287.8" fill="#ff0000" stroke="#ff0000" stroke-width="0.15" textLength="32.5" lengthAdjust="spacingAndGlyphs">12,992</text><text x="388.5" y="393.8" fill="#2cc82c" stroke="#2cc82c" stroke-width="0.15" textLength="32.5" lengthAdjust="spacingAndGlyphs">10,107</text><rect x="387" y="390" width="36" height="1" fill="#b4bcc4" opacity="0.85" shape-rendering="crispEdges"/><text x="388.5" y="404.8" fill="#2cc82c" stroke="#2cc82c" stroke-width="0.15" textLength="20.5" lengthAdjust="spacingAndGlyphs">9,85</text><text x="163.0" y="204" fill="#0000ff" stroke="#0000ff" stroke-width="0.15" textLength="14.5" lengthAdjust="spacingAndGlyphs">Ein</text><text x="180.75" y="204" fill="#0000ff" stroke="#0000ff" stroke-width="0.15" textLength="41.0" lengthAdjust="spacingAndGlyphs">Rebreak</text><text x="225.0" y="204" fill="#0000ff" stroke="#0000ff" stroke-width="0.15" textLength="21.75" lengthAdjust="spacingAndGlyphs">über</text><text x="250.0" y="204" fill="#0000ff" stroke="#0000ff" stroke-width="0.15" textLength="13.5" lengthAdjust="spacingAndGlyphs">die</text><text x="265.0" y="204" fill="#0000ff" stroke="#0000ff" stroke-width="0.15" textLength="26.0" lengthAdjust="spacingAndGlyphs">Zone</text><text x="295.0" y="204" fill="#0000ff" stroke="#0000ff" stroke-width="0.15" textLength="58.0" lengthAdjust="spacingAndGlyphs">11,37/11,67</text><text x="356.5" y="204" fill="#0000ff" stroke="#0000ff" stroke-width="0.15" textLength="22" lengthAdjust="spacingAndGlyphs">Euro</text><text x="381.5" y="204" fill="#0000ff" stroke="#0000ff" stroke-width="0.15" textLength="27.75" lengthAdjust="spacingAndGlyphs">würde</text><text x="412.5" y="204" fill="#0000ff" stroke="#0000ff" stroke-width="0.15" textLength="13.5" lengthAdjust="spacingAndGlyphs">die</text><text x="429.5" y="204" fill="#0000ff" stroke="#0000ff" stroke-width="0.15" textLength="24.75" lengthAdjust="spacingAndGlyphs">Lage</text><text x="457.0" y="204" fill="#0000ff" stroke="#0000ff" stroke-width="0.15" textLength="37.75" lengthAdjust="spacingAndGlyphs">deutlich</text><text x="497.5" y="204" fill="#0000ff" stroke="#0000ff" stroke-width="0.15" textLength="58" lengthAdjust="spacingAndGlyphs">entspannen.</text>
<g shape-rendering="crispEdges"><rect x="603" y="453" width="7" height="7" fill="#fff"/><rect x="603" y="453" width="7" height="1" fill="#808080"/><rect x="603" y="453" width="1" height="7" fill="#808080"/></g><path d="M605 460.5 L610.5 455" stroke="#333" stroke-width="1.5"/>
<g shape-rendering="crispEdges" fill="#000"><rect x="1" y="1" width="610" height="1"/><rect x="1" y="1" width="1" height="460"/><rect x="610" y="1" width="1" height="460"/><rect x="1" y="460" width="610" height="1"/></g></svg></body></html>
